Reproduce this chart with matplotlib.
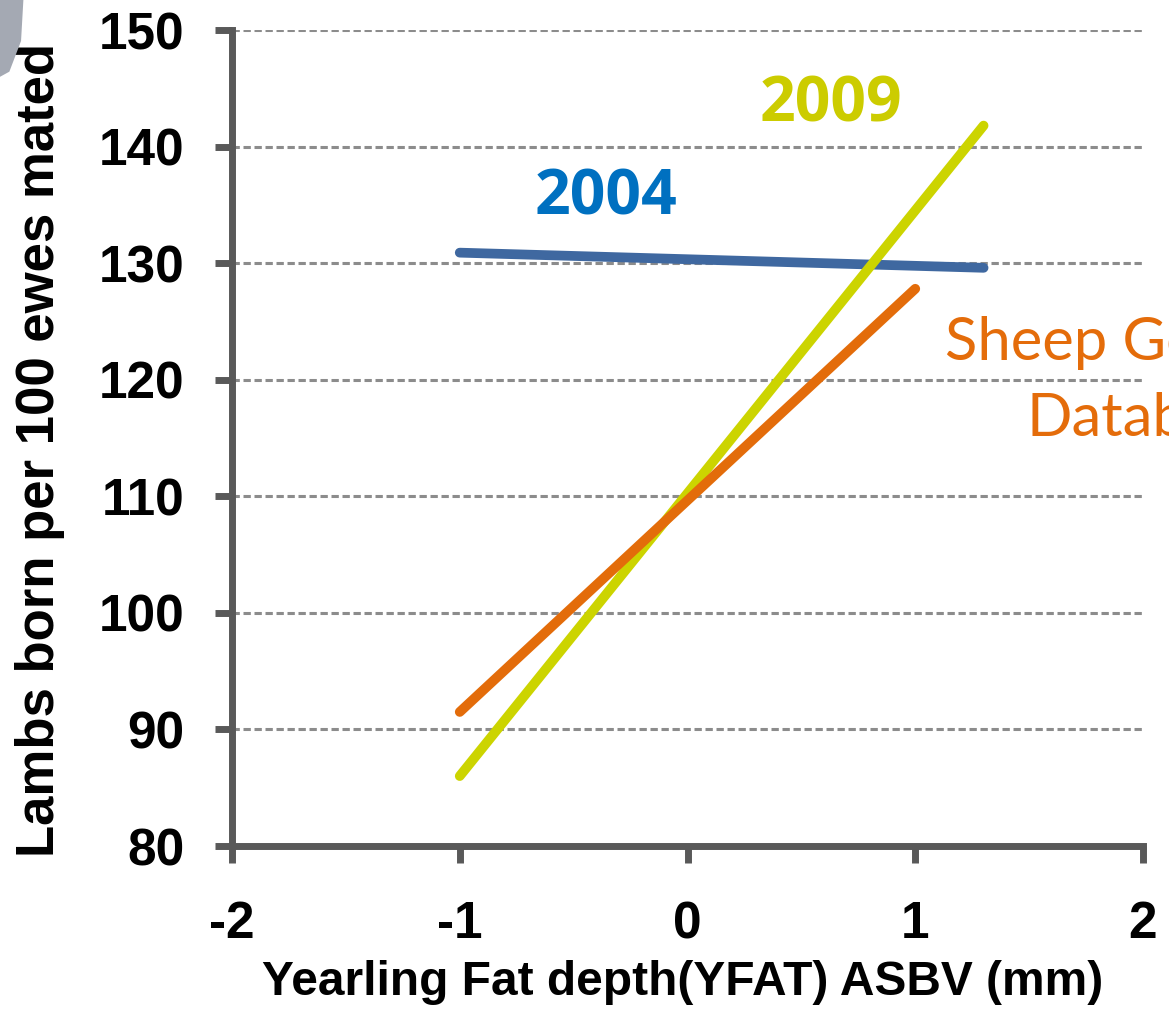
import numpy as np
import matplotlib.pyplot as plt
from matplotlib.patches import Polygon

# regression lines: end points
x_2004 = [-1.0, 1.3]
y_2004 = [130.9, 129.6]
x_2009 = [-1.0, 1.3]
y_2009 = [86.0, 141.8]
x_sgd = [-1.0, 1.0]
y_sgd = [91.5, 127.8]

x_ticks = [-2, -1, 0, 1, 2]
y_ticks = [80, 90, 100, 110, 120, 130, 140, 150]

axis_grey = '#595959'
blue_line = '#3F68A0'
yellow_line = '#CCD400'
orange_line = '#E36C0A'

fig = plt.figure(figsize=(11.69, 10.24), dpi=100)
ax = fig.add_axes([232/1169, 1 - 846/1024, (1143 - 232)/1169, (846 - 30)/1024])

# a bit of the background picture peeking in at the top left
fig.patches.append(Polygon([[0, 1], [0.02, 1], [0.018, 0.96], [0.008, 0.93], [0, 0.925]],
                           closed=True, transform=fig.transFigure,
                           facecolor='#a4a9b3', edgecolor='none'))

for yv in y_ticks[1:]:
    ax.axhline(yv, color='#8c8c8c', linestyle=(0, (2.4, 1.2)), linewidth=2.2, zorder=1)

ax.plot(x_2004, y_2004, color=blue_line, linewidth=7, solid_capstyle='round', zorder=3)
ax.plot(x_2009, y_2009, color=yellow_line, linewidth=7, solid_capstyle='round', zorder=3)
ax.plot(x_sgd, y_sgd, color=orange_line, linewidth=7, solid_capstyle='round', zorder=4)

ax.set_xlim(-2, 2)
ax.set_ylim(80, 150)
ax.set_xticks(x_ticks)
ax.set_yticks(y_ticks)
ax.set_xticklabels([str(v) for v in x_ticks])
ax.set_yticklabels([str(v) for v in y_ticks])

for side in ['top', 'right']:
    ax.spines[side].set_visible(False)
for side in ['left', 'bottom']:
    ax.spines[side].set_color(axis_grey)
    ax.spines[side].set_linewidth(5)
ax.tick_params(axis='both', colors=axis_grey, width=5, length=12, direction='out')
ax.tick_params(axis='y', pad=22)
ax.tick_params(axis='x', pad=27)
for lab in ax.get_xticklabels() + ax.get_yticklabels():
    lab.set_fontfamily('Liberation Sans')
    lab.set_fontsize(37)
    lab.set_fontweight('bold')
    lab.set_color('black')

ax.set_xlabel('Yearling Fat depth(YFAT) ASBV (mm)', fontfamily='Liberation Sans',
              fontsize=34.5, fontweight='bold')
ax.set_ylabel('Lambs born per 100 ewes mated', fontfamily='Liberation Sans',
              fontsize=38, fontweight='bold')
ax.xaxis.set_label_coords(0.495, -0.14)
ax.yaxis.set_label_coords(-0.183, 0.485)

ax.text(-0.36, 135.6, '2004', color='#0070C0', fontsize=45, fontweight='bold',
        fontfamily='Open Sans', ha='center', va='center')
ax.text(0.63, 143.6, '2009', color='#CCCC00', fontsize=45, fontweight='bold',
        fontfamily='Open Sans', ha='center', va='center')
# the label runs past the right edge, as in the original slide
ax.text(1.13, 121.7, 'Sheep Genetics', color='#E46C0A', fontsize=43,
        fontfamily='Lato', ha='left', va='baseline', clip_on=False)
ax.text(1.49, 115.2, 'Database', color='#E46C0A', fontsize=43,
        fontfamily='Lato', ha='left', va='baseline', clip_on=False)

fig.savefig('out.png', dpi=100)
